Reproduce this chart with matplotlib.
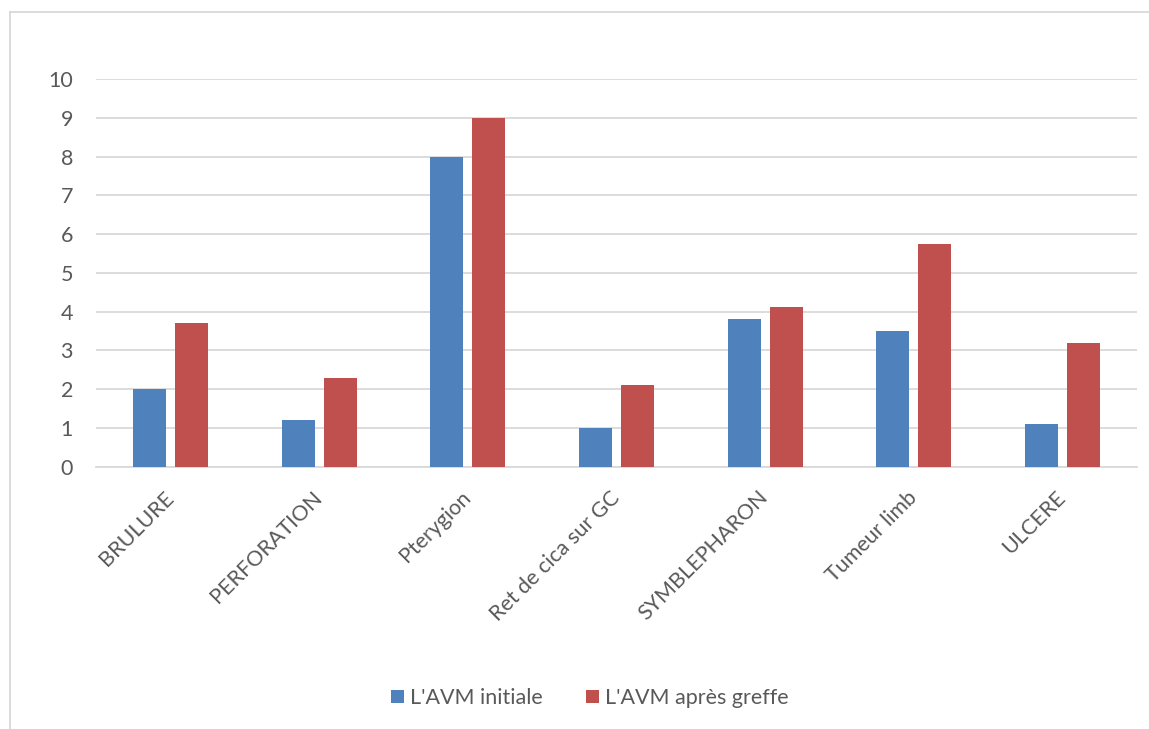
import matplotlib
matplotlib.use("Agg")
import matplotlib.pyplot as plt
import numpy as np
from matplotlib.lines import Line2D

categories = ["BRULURE", "PERFORATION", "Pterygion", "Ret de cica sur GC",
              "SYMBLEPHARON", "Tumeur limb", "ULCERE"]
avm_initiale = [2.0, 1.2, 8.0, 1.0, 3.8, 3.5, 1.1]
avm_apres_greffe = [3.7, 2.3, 9.0, 2.12, 4.11, 5.75, 3.2]
series_names = ["L'AVM initiale", "L'AVM après greffe"]
y_ticks = list(range(0, 11))

BLUE = "#4F81BD"
RED = "#C0504D"
TEXT = "#595959"
GRID = "#D9D9D9"

plt.rcParams["font.family"] = ["Lato", "DejaVu Sans"]

W, H = 1149, 729
fig = plt.figure(figsize=(W / 100, H / 100), dpi=100)

# outer chart frame (left and top edges)
fx, fy = 9.5 / W, 1 - 12 / H
fig.add_artist(Line2D([fx, fx], [0, fy], transform=fig.transFigure,
                      color="#D9D9D9", linewidth=1.3))
fig.add_artist(Line2D([fx, 1], [fy, fy], transform=fig.transFigure,
                      color="#D9D9D9", linewidth=1.3))

left, right = 96, 1137
top, bottom = 79, 466.7
ax = fig.add_axes([left / W, 1 - bottom / H, (right - left) / W, (bottom - top) / H])

x = np.arange(len(categories))
bw = 0.222
off = 0.141
ax.bar(x - off, avm_initiale, bw, color=BLUE, label=series_names[0], zorder=3)
ax.bar(x + off, avm_apres_greffe, bw, color=RED, label=series_names[1], zorder=3)

ax.set_xlim(-0.5, len(categories) - 0.5)
ax.set_ylim(0, 10)
ax.set_yticks(y_ticks)
ax.yaxis.grid(True, color=GRID, linewidth=1.3, zorder=0)
ax.set_axisbelow(True)
for s in ["top", "right", "left"]:
    ax.spines[s].set_visible(False)
ax.spines["bottom"].set_color(GRID)
ax.spines["bottom"].set_linewidth(1.3)
ax.tick_params(axis="y", length=0, pad=16.5, labelsize=15.5, labelcolor=TEXT)
ax.tick_params(axis="x", length=0, pad=20, labelsize=15.5, labelcolor=TEXT)
ax.set_xticks(x)
ax.set_xticklabels(categories, rotation=45, ha="right", va="center", rotation_mode="anchor")

handles, labels = ax.get_legend_handles_labels()
fig.legend(handles, labels, loc="center", bbox_to_anchor=(590 / W, 1 - 698 / H),
           ncol=2, frameon=False, fontsize=15.5, labelcolor=TEXT,
           handlelength=0.6, handleheight=0.6, handletextpad=0.3, columnspacing=2.0)

fig.savefig("out.png", dpi=100, facecolor="white")
